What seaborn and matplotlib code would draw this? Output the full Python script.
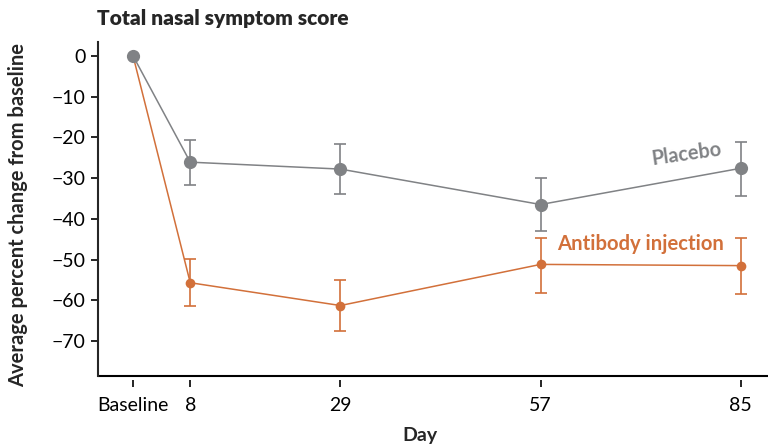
import numpy as np
import pandas as pd
import matplotlib
matplotlib.use("Agg")
import matplotlib.pyplot as plt
import seaborn as sns

days = [0, 8, 29, 57, 85]
day_labels = ["Baseline", "8", "29", "57", "85"]

placebo = [0, -26.1, -27.8, -36.5, -27.6]
placebo_hi = [0, -20.7, -21.7, -30.0, -21.2]
placebo_lo = [0, -31.8, -34.0, -43.0, -34.5]

antibody = [0, -55.7, -61.3, -51.2, -51.5]
antibody_hi = [0, -49.8, -55.0, -44.6, -44.6]
antibody_lo = [0, -61.3, -67.5, -58.1, -58.4]

grey = "#808285"
orange = "#D2703A"

sns.set_style("white")
plt.rcParams["font.family"] = ["Lato", "DejaVu Sans"]

df = pd.DataFrame({
    "Day": days * 2,
    "Change": antibody + placebo,
    "Group": ["Antibody injection"] * 5 + ["Placebo"] * 5,
})

fig = plt.figure(figsize=(7.68, 4.47), dpi=100)
ax = fig.add_axes([98 / 768, 1 - 376 / 447, 670 / 768, 334 / 447])

# error bars (skip baseline)
for vals, hi, lo, col in [(antibody, antibody_hi, antibody_lo, orange),
                          (placebo, placebo_hi, placebo_lo, grey)]:
    v = np.array(vals[1:])
    yerr = [v - np.array(lo[1:]), np.array(hi[1:]) - v]
    ax.errorbar(days[1:], v, yerr=yerr, fmt="none", ecolor=col,
                elinewidth=1.2, capsize=4, capthick=1.2, zorder=2)

sns.lineplot(data=df[df.Group == "Antibody injection"], x="Day", y="Change",
             color=orange, marker="o", markersize=7, markeredgewidth=0,
             linewidth=1.1, ax=ax, zorder=3)
sns.lineplot(data=df[df.Group == "Placebo"], x="Day", y="Change",
             color=grey, marker="o", markersize=9.5, markeredgewidth=0,
             linewidth=1.1, ax=ax, zorder=4)

ax.set_xlim(-4.9, 88.8)
ax.set_ylim(-78.6, 3.4)
ax.set_yticks(range(0, -71, -10))
ax.set_yticklabels(["0"] + ["\u221210", "\u221220", "\u221230", "\u221240",
                            "\u221250", "\u221260", "\u221270"])
ax.set_xticks(days)
ax.set_xticklabels(day_labels)

ax.spines["top"].set_visible(False)
ax.spines["right"].set_visible(False)
ax.spines["left"].set_linewidth(1.5)
# x ticks sit a little below the axis line
ax.spines["bottom"].set_position(("outward", 3))
ax.spines["bottom"].set_color("none")
ax.axhline(-78.6, color="black", linewidth=1.5, clip_on=False, zorder=1)
ax.tick_params(axis="both", which="major", direction="out", length=5,
               width=1.2, color="black", labelcolor="black", labelsize=14,
               pad=4, bottom=True, left=True)
ax.tick_params(axis="x", pad=7)

ax.set_xlabel("Day", fontsize=14, fontweight="bold")
ax.xaxis.set_label_coords((420 - 98) / 670, (376 - 435) / 334)
ax.set_ylabel("Average percent change from baseline", fontsize=14.5,
              fontweight="bold")
ax.yaxis.set_label_coords((18 - 98) / 670, (376 - 215) / 334)
ax.yaxis.label.set_va("center")
ax.xaxis.label.set_va("center")
ax.legend_ = None

fig.text(97 / 768, 1 - 18 / 447, "Total nasal symptom score", fontsize=15,
         fontweight="heavy", va="center", ha="left")

ax.text(77.4, -24.2, "Placebo", color=grey, fontsize=14.4, fontweight="bold",
        rotation=8, ha="center", va="center")
ax.text(71, -46.3, "Antibody injection", color=orange, fontsize=14.6,
        fontweight="bold", ha="center", va="center")

fig.savefig("out.png", dpi=100)
